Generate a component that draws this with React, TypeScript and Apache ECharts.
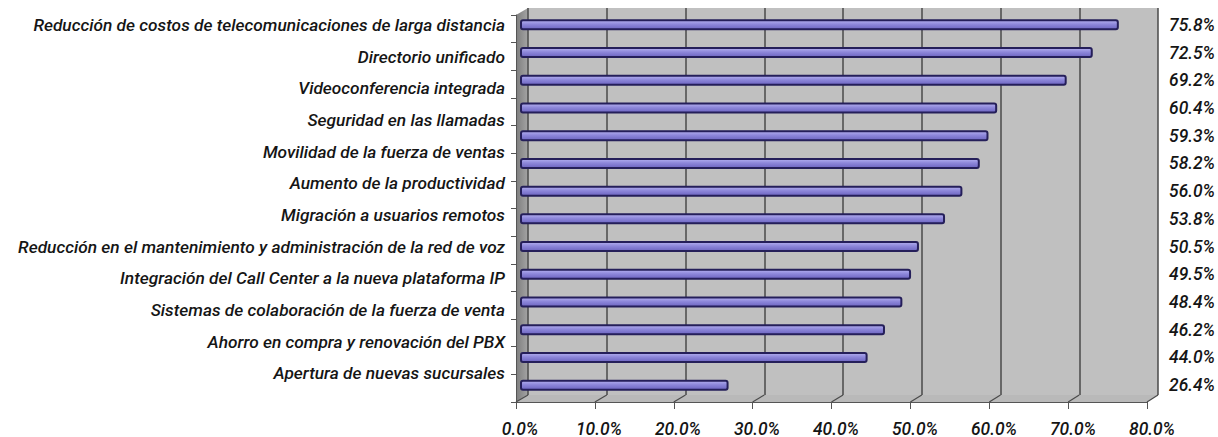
import React, { useEffect, useRef } from "react";
import * as echarts from "echarts";

const labelCategories = [
  "Reducción de costos de telecomunicaciones de larga distancia",
  "Directorio unificado",
  "Videoconferencia integrada",
  "Seguridad en las llamadas",
  "Movilidad de la fuerza de ventas",
  "Aumento de la productividad",
  "Migración a usuarios remotos",
  "Reducción en el mantenimiento y administración de la red de voz",
  "Integración del Call Center a la nueva plataforma IP",
  "Sistemas de colaboración de la fuerza de venta",
  "Ahorro en compra y renovación del PBX",
  "Apertura de nuevas sucursales",
];
const values = [75.8, 72.5, 69.2, 60.4, 59.3, 58.2, 56.0, 53.8, 50.5, 49.5, 48.4, 46.2, 44.0, 26.4];
const barIds = ["b1", "b2", "b3", "b4", "b5", "b6", "b7", "b8", "b9", "b10", "b11", "b12", "b13", "b14"];
const xMin = 0;
const xMax = 80;
const xInterval = 10;
const xTicks = [0, 10, 20, 30, 40, 50, 60, 70, 80];

const FAMILY = "Roboto";
const WEIGHT = 500;

function fitSize(text: string, target: number): number {
  const ctx = document.createElement("canvas").getContext("2d");
  if (!ctx) return 17;
  ctx.font = `italic ${WEIGHT} 100px ${FAMILY}`;
  const w = ctx.measureText(text).width;
  return w > 0 ? (100 * target) / w : 17;
}

export default function App() {
  const ref = useRef<HTMLDivElement>(null);
  useEffect(() => {
    document.body.style.margin = "0";
    if (!ref.current) return;
    const chart = echarts.init(ref.current, undefined, { renderer: "svg" });
    const valueLabels = values.map((v) => v.toFixed(1) + "%");
    const catSize = fitSize(labelCategories[0], 472);
    const valSize = fitSize("75.8%", 46);
    const tickSize = fitSize("80.0%", 46);
    const txt = { color: "#151515", fontFamily: FAMILY, fontStyle: "italic", fontWeight: WEIGHT };
    chart.setOption({
      animation: false,
      backgroundColor: "#ffffff",
      grid: [
        { left: 528, right: 60, top: 8, bottom: 42, show: true, backgroundColor: "#c0c0c0", borderWidth: 0 },
        { left: 520, right: 65, top: 11, bottom: 38 },
        { left: 516, right: 71, top: 15, bottom: 35 },
        { left: 520, right: 65, top: 9, bottom: 48 },
      ],
      xAxis: [
        {
          gridIndex: 0, type: "value", min: xMin, max: xMax, interval: xInterval,
          axisLine: { show: false }, axisTick: { show: false }, axisLabel: { show: false },
          splitLine: { show: true, lineStyle: { color: "#4a4a4a", width: 1.5 } },
        },
        {
          gridIndex: 1, type: "value", min: xMin, max: xMax, interval: xInterval,
          axisLine: { show: false }, axisTick: { show: false }, splitLine: { show: false },
          axisLabel: { show: true, margin: 21, fontSize: tickSize, ...txt, formatter: (v: number) => v.toFixed(1) + "%" },
        },
        {
          gridIndex: 2, type: "value", min: xMin, max: xMax, interval: xInterval,
          axisLine: { show: true, lineStyle: { color: "#555555", width: 1 } },
          axisTick: { show: true, length: 7, lineStyle: { color: "#555555" } },
          axisLabel: { show: false }, splitLine: { show: false },
        },
        { gridIndex: 3, type: "value", min: xMin, max: xMax, show: false },
      ],
      yAxis: [
        { gridIndex: 0, type: "category", data: barIds, inverse: true, show: false },
        {
          gridIndex: 1, type: "category", data: barIds, inverse: true, position: "left",
          axisLine: { show: false }, axisTick: { show: false }, axisLabel: { show: false },
        },
        {
          gridIndex: 1, type: "category", data: valueLabels, inverse: true, position: "right",
          axisLine: { show: false }, axisTick: { show: false },
          axisLabel: { margin: 17, fontSize: valSize, ...txt },
        },
        {
          gridIndex: 2, type: "category", data: barIds, inverse: true, position: "left",
          axisLine: { show: true, lineStyle: { color: "#555555" } },
          axisTick: { show: true, length: 5, lineStyle: { color: "#555555" } },
          axisLabel: { show: false },
        },
        {
          gridIndex: 3, type: "category", data: labelCategories, inverse: true, position: "left",
          axisLine: { show: false }, axisTick: { show: false },
          axisLabel: { margin: 15, fontSize: catSize, ...txt },
        },
      ],
      series: [
        {
          type: "bar",
          xAxisIndex: 1,
          yAxisIndex: 1,
          data: values,
          barWidth: 11,
          itemStyle: {
            color: new echarts.graphic.LinearGradient(0, 0, 0, 1, [
              { offset: 0, color: "#b4b0f0" },
              { offset: 0.45, color: "#8d87da" },
              { offset: 1, color: "#6c64c0" },
            ]),
            borderColor: "#251f5a",
            borderWidth: 2,
            borderRadius: 2,
          },
        },
      ],
    });

    // 3D wall / floor decorations positioned from the axes' own scales
    const back0 = chart.convertToPixel({ xAxisIndex: 0 }, xMin) as number;
    const back80 = chart.convertToPixel({ xAxisIndex: 0 }, xMax) as number;
    const front0 = chart.convertToPixel({ xAxisIndex: 2 }, xMin) as number;
    const front80 = chart.convertToPixel({ xAxisIndex: 2 }, xMax) as number;
    const backBottom = 437 - 42;
    const backTop = 8;
    const frontBottom = 437 - 35;
    const frontTop = 15;
    const graphics: any[] = [
      {
        type: "polygon", silent: true, z: -1,
        shape: { points: [[front0, frontTop], [back0, backTop], [back0, backBottom], [front0, frontBottom]] },
        style: {
          fill: new echarts.graphic.LinearGradient(0, 0, 1, 0, [
            { offset: 0, color: "#7d7d7d" },
            { offset: 1, color: "#a4a4a4" },
          ]),
        },
      },
      {
        type: "polygon", silent: true, z: -1,
        shape: { points: [[front0, frontBottom], [front80, frontBottom], [back80, backBottom], [back0, backBottom]] },
        style: { fill: "#b9b9b9" },
      },
    ];
    xTicks.forEach((t) => {
      const bx = chart.convertToPixel({ xAxisIndex: 0 }, t) as number;
      const fx = chart.convertToPixel({ xAxisIndex: 2 }, t) as number;
      graphics.push({
        type: "line", silent: true, z: 1,
        shape: { x1: bx, y1: backBottom, x2: fx, y2: frontBottom },
        style: { stroke: "#4a4a4a", lineWidth: 1.2 },
      });
    });
    chart.setOption({ graphic: graphics });
    return () => chart.dispose();
  }, []);
  return <div ref={ref} style={{ width: 1218, height: 437 }} />;
}
